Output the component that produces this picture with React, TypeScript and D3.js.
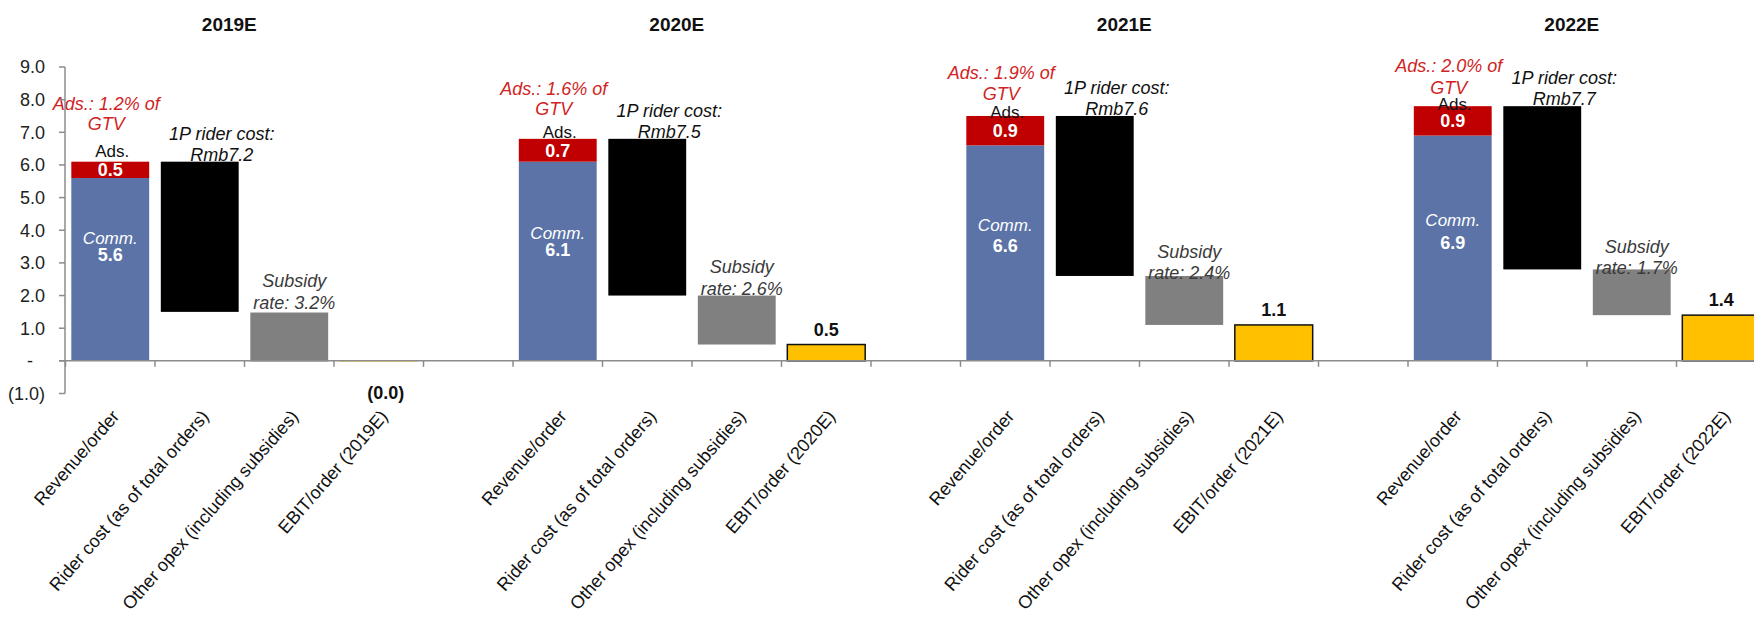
import { useEffect, useRef } from "react";
import * as d3 from "d3";

const years = ["2019E", "2020E", "2021E", "2022E"];
const steps = [
  "Revenue/order",
  "Rider cost (as of total orders)",
  "Other opex (including subsidies)",
  "EBIT/order",
];

const commission = [5.6, 6.1, 6.6, 6.9];
const ads = [0.5, 0.7, 0.9, 0.9];
const riderCost = [4.6, 4.8, 4.9, 5.0];
const otherOpex = [1.5, 1.5, 1.5, 1.4];
const ebit = [-0.02, 0.5, 1.1, 1.4];

const adsShareOfGtv = ["1.2%", "1.6%", "1.9%", "2.0%"];
const firstPartyRiderCost = ["7.2", "7.5", "7.6", "7.7"];
const subsidyRate = ["3.2%", "2.6%", "2.4%", "1.7%"];

const yTicks = [-1, 0, 1, 2, 3, 4, 5, 6, 7, 8, 9];

const WIDTH = 1754;
const HEIGHT = 619;
const FONT = "'Liberation Sans', Arial, Helvetica, sans-serif";

const fmt = (v: number) => {
  if (Math.abs(v) < 1e-9) return "-";
  const s = Math.abs(v).toFixed(1);
  return v < 0 ? `(${s})` : s;
};

export default function App() {
  const svgRef = useRef<SVGSVGElement>(null);

  useEffect(() => {
    if (!svgRef.current) return;
    const svg = d3.select(svgRef.current);
    svg.selectAll("*").remove();

    // 5 slots per year: 4 waterfall steps + empty gap
    const slots = years.flatMap((yr) => [...steps.map((s) => `${s}|${yr}`), `gap|${yr}`]);
    const slotW = 89.5;
    const x = d3
      .scaleBand()
      .domain(slots)
      .range([65.5, 65.5 + slots.length * slotW])
      .paddingInner(0.13)
      .paddingOuter(0.065);
    const y = d3.scaleLinear().domain([-1, 9]).range([393.5, 67]);
    const bw = x.bandwidth();
    const half = (x.step() * 0.13) / 2;

    const bars = svg.append("g");
    const labels = svg.append("g").attr("font-family", FONT);

    const text = (
      px: number,
      py: number,
      t: string,
      opts: { size?: number; fill?: string; bold?: boolean; italic?: boolean; anchor?: string } = {}
    ) =>
      labels
        .append("text")
        .attr("x", px)
        .attr("y", py)
        .attr("dy", "0.35em")
        .attr("text-anchor", opts.anchor ?? "middle")
        .attr("font-size", opts.size ?? 18)
        .attr("font-weight", opts.bold ? "bold" : "normal")
        .attr("font-style", opts.italic ? "italic" : "normal")
        .attr("fill", opts.fill ?? "#111")
        .text(t);

    const rect = (key: string, v0: number, v1: number, fill: string, stroke?: string) => {
      const top = y(Math.max(v0, v1));
      const h = Math.abs(y(v0) - y(v1));
      const r = bars
        .append("rect")
        .attr("x", x(key)!)
        .attr("y", top)
        .attr("width", bw)
        .attr("height", h)
        .attr("fill", fill);
      if (stroke && h > 1) r.attr("stroke", stroke).attr("stroke-width", 1.5);
    };

    years.forEach((yr, i) => {
      const [kRev, kRider, kOther, kEbit] = steps.map((s) => `${s}|${yr}`);
      const c = commission[i];
      const a = ads[i];
      const total = c + a;
      const riderBottom = total - riderCost[i];
      const e = ebit[i];

      rect(kRev, 0, c, "#5b73a7");
      rect(kRev, c, total, "#c00000");
      rect(kRider, riderBottom, total, "#000");
      rect(kOther, e, e + otherOpex[i], "#808080");
      rect(kEbit, 0, e, "#ffc000", "#111");

      // title
      text(x(kRev)! + 158, 24, yr, { size: 19, bold: true });

      // revenue annotations (label stack tightens as the bar gets taller)
      const cxRev = x(kRev)! + bw / 2;
      const topRev = y(total);
      const dt = topRev - 105;
      text(cxRev - 4, 65 + 0.69 * dt, `Ads.: ${adsShareOfGtv[i]} of`, { italic: true, fill: "#d02424" });
      text(cxRev - 4, 87 + 0.655 * dt, "GTV", { italic: true, fill: "#d02424" });
      text(cxRev + 2, 103 + 0.855 * dt, "Ads.", { size: 17 });
      text(cxRev, (y(c) + y(total)) / 2, fmt(a), { bold: true, fill: "#fff" });
      const dc = y(c) - 136.3;
      const valueY = 243 + 0.28 * dc;
      text(cxRev, Math.min(220 + 0.54 * dc, valueY - 17), "Comm.", { italic: true, size: 17, fill: "#fff" });
      text(cxRev, valueY, fmt(c), { bold: true, fill: "#fff" });

      // rider cost annotations
      const cxRider = x(kRider)! + bw / 2;
      text(cxRider + 22, topRev - 28, "1P rider cost:", { italic: true });
      text(cxRider + 22, topRev - 7, `Rmb${firstPartyRiderCost[i]}`, { italic: true });

      // other opex annotations
      const cxOther = x(kOther)! + bw / 2;
      const dOther = y(e + otherOpex[i]) - 270;
      text(cxOther + 5, 247 + 0.79 * dOther, "Subsidy", { italic: true, fill: "#3a3a3a" });
      text(cxOther + 5, 268 + 0.81 * dOther, `rate: ${subsidyRate[i]}`, { italic: true, fill: "#3a3a3a" });

      // EBIT value
      const cxE = x(kEbit)! + bw / 2;
      if (e >= 0) text(cxE, y(e) - 15, fmt(e), { bold: true });
      else text(cxE + 7, y(e) + 31, fmt(e), { bold: true });

      // category labels
      steps.forEach((s, j) => {
        const key = `${s}|${yr}`;
        const cx = x(key)! + bw / 2;
        labels
          .append("text")
          .attr("transform", `translate(${cx + 10},${417}) rotate(-49)`)
          .attr("text-anchor", "end")
          .attr("font-size", 18)
          .attr("fill", "#111")
          .text(j === 3 ? `${s} (${yr})` : s);
      });
    });

    // axes
    const axis = svg.append("g").attr("stroke", "#8c8c8c").attr("stroke-width", 1.5);
    axis.append("line").attr("x1", 65).attr("x2", 65).attr("y1", y(9)).attr("y2", y(-1));
    axis
      .append("line")
      .attr("x1", 59)
      .attr("x2", WIDTH)
      .attr("y1", y(0))
      .attr("y2", y(0));
    yTicks.forEach((v) => {
      axis.append("line").attr("x1", 59).attr("x2", 65).attr("y1", y(v)).attr("y2", y(v));
    });
    slots.forEach((s) => {
      const bx = x(s)! - half;
      axis.append("line").attr("x1", bx).attr("x2", bx).attr("y1", y(0)).attr("y2", y(0) + 6);
    });

    const yLabels = svg.append("g").attr("font-family", FONT);
    yTicks.forEach((v) => {
      yLabels
        .append("text")
        .attr("x", v === 0 ? 33 : 45)
        .attr("y", y(v))
        .attr("dy", "0.35em")
        .attr("text-anchor", "end")
        .attr("font-size", 18)
        .attr("fill", "#222")
        .text(fmt(v));
    });
  }, []);

  return (
    <>
      <style>{"body{margin:0}"}</style>
      <svg ref={svgRef} width={WIDTH} height={HEIGHT} style={{ display: "block", background: "#fff" }} />
    </>
  );
}
